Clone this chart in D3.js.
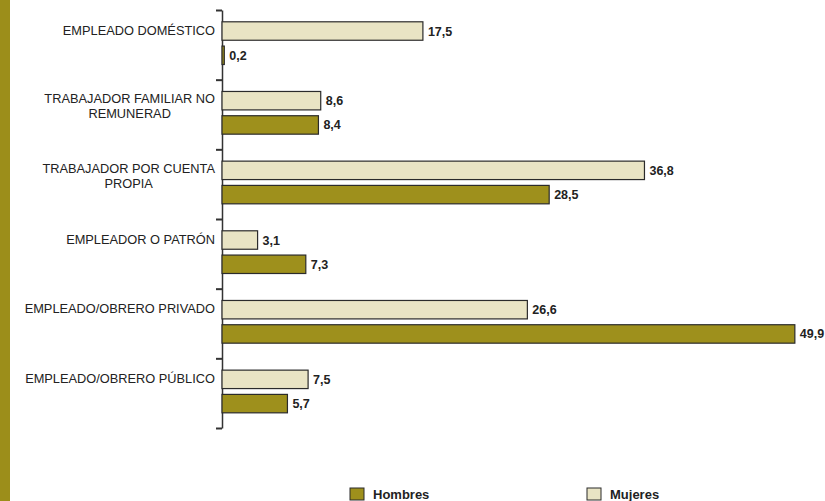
<!DOCTYPE html>
<html>
<head>
<meta charset="utf-8">
<script src="https://cdn.jsdelivr.net/npm/d3@7"></script>
<style>
    body { margin: 0; background: #fff; }
    svg { display: block; font-family: "Liberation Sans", Arial, sans-serif; }
</style>
</head>
<body>
<div id="chart"></div>
<script>
// categorias (de arriba hacia abajo), cada una en lineas
const categorias = [
    ["EMPLEADO DOMÉSTICO"],
    ["TRABAJADOR FAMILIAR NO", "REMUNERAD"],
    ["TRABAJADOR POR CUENTA", "PROPIA"],
    ["EMPLEADOR O PATRÓN"],
    ["EMPLEADO/OBRERO PRIVADO"],
    ["EMPLEADO/OBRERO PÚBLICO"]
];
const mujeres = [17.5, 8.6, 36.8, 3.1, 26.6, 7.5];
const hombres = [0.2, 8.4, 28.5, 7.3, 49.9, 5.7];
const series = ["Mujeres", "Hombres"];
const leyenda = ["Hombres", "Mujeres"];

const colores = { Hombres: "#9e901c", Mujeres: "#e9e4c4" };

const width = 825, height = 501;

const svg = d3.select("#chart")
    .append("svg")
    .attr("width", width)
    .attr("height", height);

// franja lateral
svg.append("rect")
    .attr("x", 0).attr("y", 0)
    .attr("width", 10).attr("height", height)
    .attr("fill", "#9c8e1a");

const nombres = categorias.map(c => c.join(" "));

const y = d3.scaleBand()
    .domain(nombres)
    .range([10, 428]);

const yIn = d3.scaleBand()
    .domain(series)
    .range([11.8, 54.5])
    .paddingInner(0.24);

const x = d3.scaleLinear()
    .domain([0, 50])
    .range([222, 796]);

// eje con marcas en los limites de cada grupo
const limites = d3.scaleLinear()
    .domain([0, categorias.length])
    .range([10, 428]);

const eje = svg.append("g")
    .attr("transform", "translate(222,0)")
    .call(d3.axisLeft(limites).ticks(categorias.length).tickSize(6).tickSizeOuter(0).tickFormat(""));
eje.select(".domain").attr("stroke", "#333").attr("stroke-width", 1.5);
eje.selectAll(".tick line").attr("stroke", "#333").attr("stroke-width", 2);

const datos = [];
nombres.forEach((n, i) => {
    datos.push({ cat: n, serie: "Mujeres", valor: mujeres[i] });
    datos.push({ cat: n, serie: "Hombres", valor: hombres[i] });
});

svg.selectAll(".bar")
    .data(datos)
    .enter().append("rect")
    .attr("class", "bar")
    .attr("x", x(0))
    .attr("y", d => y(d.cat) + yIn(d.serie))
    .attr("width", d => x(d.valor) - x(0))
    .attr("height", yIn.bandwidth())
    .attr("fill", d => colores[d.serie])
    .attr("stroke", "#2b2b2b")
    .attr("stroke-width", 1.2);

svg.selectAll(".valor")
    .data(datos)
    .enter().append("text")
    .attr("class", "valor")
    .attr("x", d => x(d.valor) + 5)
    .attr("y", d => y(d.cat) + yIn(d.serie) + yIn.bandwidth() / 2)
    .attr("dy", ".36em")
    .style("font-size", "12.5px")
    .style("font-weight", "bold")
    .style("fill", "#222")
    .text(d => d.valor.toFixed(1).replace(".", ","));

// etiquetas de categoria
categorias.forEach((lineas, i) => {
    const y0 = y(nombres[i]);
    const off = lineas.length > 1 ? 19 : 20;
    const g = svg.append("g");
    const t0 = g.append("text")
        .attr("x", 215)
        .attr("y", y0 + off)
        .attr("dy", ".36em")
        .attr("text-anchor", "end")
        .style("font-size", "12.8px")
        .style("fill", "#222")
        .text(lineas[0]);
    const w = t0.node().getComputedTextLength();
    lineas.slice(1).forEach((l, j) => {
        g.append("text")
            .attr("x", 215 - w / 2)
            .attr("y", y0 + off + 15 * (j + 1))
            .attr("dy", ".36em")
            .attr("text-anchor", "middle")
            .style("font-size", "12.8px")
            .style("fill", "#222")
            .text(l);
    });
});

// leyenda
const posLeyenda = [350, 587];
const ley = svg.selectAll(".ley")
    .data(leyenda)
    .enter().append("g")
    .attr("class", "ley")
    .attr("transform", (d, i) => `translate(${posLeyenda[i]},488)`);

ley.append("rect")
    .attr("width", 14)
    .attr("height", 12)
    .attr("fill", d => colores[d])
    .attr("stroke", "#2b2b2b")
    .attr("stroke-width", 1);

ley.append("text")
    .attr("x", 23)
    .attr("y", 6)
    .attr("dy", ".36em")
    .style("font-size", "13px")
    .style("font-weight", "bold")
    .style("fill", "#222")
    .text(d => d);
</script>
</body>
</html>
